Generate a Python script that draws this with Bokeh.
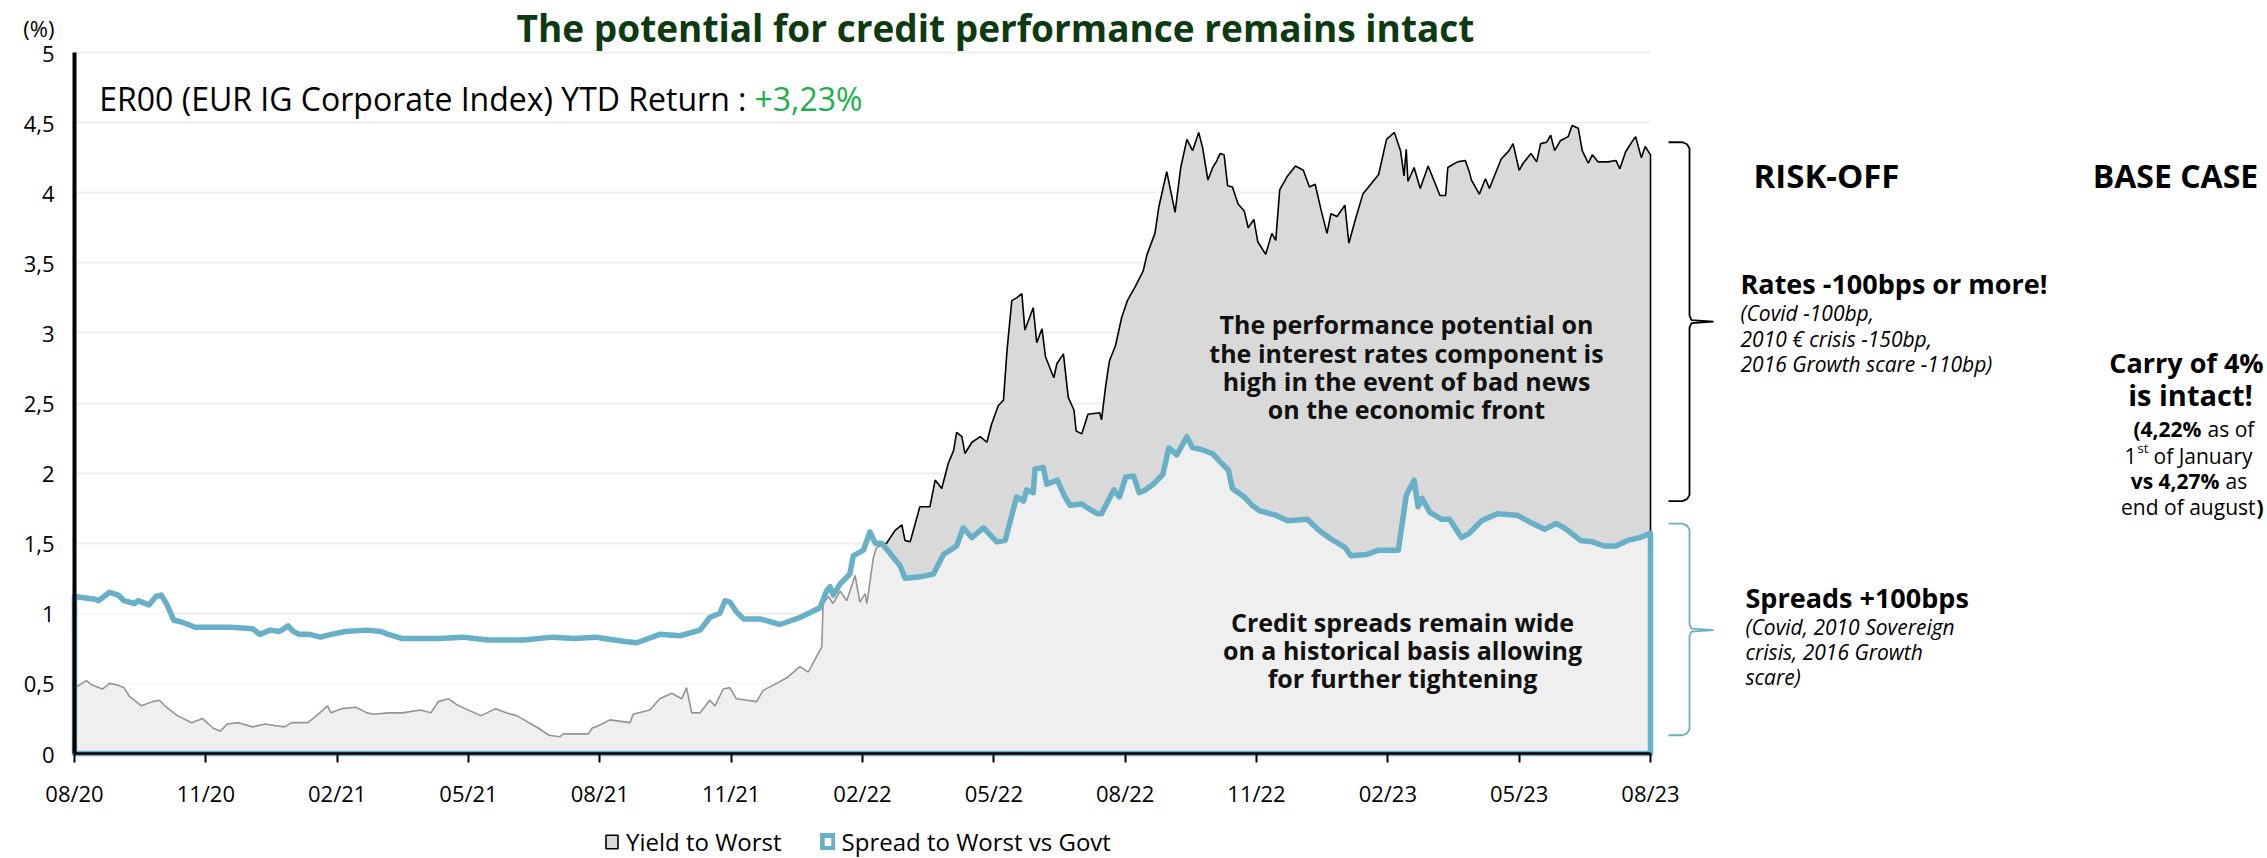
from bokeh.plotting import figure
from bokeh.models import Range1d, FixedTicker, Label, Legend, LegendItem
from bokeh.embed import file_html
from bokeh.resources import INLINE

# ---------------- data (x = months since end of August 2020) ----------------
x_ticks = [0, 3, 6, 9, 12, 15, 18, 21, 24, 27, 30, 33, 36]
x_tick_labels = ["08/20", "11/20", "02/21", "05/21", "08/21", "11/21", "02/22",
                 "05/22", "08/22", "11/22", "02/23", "05/23", "08/23"]
y_ticks = [0, 0.5, 1, 1.5, 2, 2.5, 3, 3.5, 4, 4.5, 5]
y_tick_labels = ["0", "0,5", "1", "1,5", "2", "2,5", "3", "3,5", "4", "4,5", "5"]
unit_label = "(%)"

ytw_months = [0.00, 0.12, 0.27, 0.39, 0.64, 0.80, 0.96, 1.13, 1.25, 1.53, 1.78, 1.94, 2.10, 2.35,
              2.68, 2.92, 3.17, 3.33, 3.49, 3.74, 4.07, 4.35, 4.56, 4.80, 4.96, 5.33, 5.53, 5.78,
              5.86, 6.10, 6.43, 6.68, 6.84, 7.17, 7.49, 7.90, 8.14, 8.31, 8.55, 8.72, 8.92, 9.29,
              9.62, 9.86, 10.10, 10.27, 10.60, 10.84, 11.09, 11.17, 11.41, 11.74, 11.82, 11.98,
              12.23, 12.69, 12.76, 13.14, 13.37, 13.64, 13.87, 13.98, 14.10, 14.29, 14.51, 14.63,
              14.82, 14.97, 15.12, 15.58, 15.73, 16.04, 16.27, 16.57, 16.76, 16.88, 17.07, 17.10,
              17.22, 17.33, 17.49, 17.64, 17.83, 17.94, 18.06, 18.10, 18.25, 18.32, 18.55, 18.74,
              18.90, 18.97, 19.09, 19.31, 19.54, 19.66, 19.81, 19.96, 20.08, 20.15, 20.27, 20.34,
              20.50, 20.69, 20.84, 20.95, 21.10, 21.22, 21.30, 21.41, 21.52, 21.64, 21.71, 21.90,
              21.98, 22.10, 22.18, 22.37, 22.44, 22.59, 22.70, 22.83, 22.88, 23.01, 23.15, 23.42,
              23.46, 23.55, 23.64, 23.78, 23.92, 24.05, 24.23, 24.41, 24.50, 24.68, 24.77, 24.95,
              25.14, 25.27, 25.41, 25.54, 25.68, 25.77, 25.89, 26.00, 26.08, 26.17, 26.26, 26.34,
              26.45, 26.58, 26.72, 26.81, 26.94, 27.03, 27.21, 27.35, 27.44, 27.53, 27.71, 27.89,
              28.07, 28.21, 28.34, 28.48, 28.61, 28.70, 28.84, 29.02, 29.11, 29.25, 29.43, 29.61,
              29.79, 29.97, 30.15, 30.29, 30.37, 30.42, 30.46, 30.60, 30.74, 30.92, 31.05, 31.19,
              31.32, 31.37, 31.59, 31.77, 31.86, 31.91, 32.09, 32.23, 32.32, 32.59, 32.77, 32.86,
              33.00, 33.09, 33.27, 33.40, 33.49, 33.63, 33.72, 33.81, 33.94, 34.12, 34.21, 34.35,
              34.44, 34.58, 34.67, 34.80, 35.03, 35.21, 35.30, 35.43, 35.57, 35.66, 35.79, 35.88,
              36.00]
ytw_values = [0.47, 0.49, 0.52, 0.49, 0.46, 0.50, 0.49, 0.47, 0.41, 0.34, 0.37, 0.38, 0.33, 0.27,
              0.22, 0.25, 0.18, 0.16, 0.21, 0.22, 0.19, 0.21, 0.20, 0.19, 0.22, 0.22, 0.27, 0.34,
              0.29, 0.32, 0.33, 0.29, 0.28, 0.29, 0.29, 0.31, 0.29, 0.37, 0.39, 0.35, 0.32, 0.27,
              0.32, 0.29, 0.27, 0.24, 0.18, 0.13, 0.12, 0.14, 0.14, 0.14, 0.18, 0.20,
              0.24, 0.22, 0.28, 0.31, 0.39, 0.43, 0.39, 0.47, 0.29, 0.29, 0.38, 0.34,
              0.46, 0.47, 0.39, 0.37, 0.45, 0.50, 0.54, 0.62, 0.58, 0.65, 0.76, 1.07,
              1.12, 1.07, 1.16, 1.09, 1.27, 1.08, 1.14, 1.07, 1.40, 1.47, 1.50, 1.59,
              1.63, 1.52, 1.51, 1.76, 1.76, 1.95, 1.89, 2.07, 2.16, 2.29, 2.26, 2.14,
              2.22, 2.26, 2.22, 2.35, 2.48, 2.52, 2.87, 3.23, 3.25, 3.28, 3.02, 3.18,
              2.93, 3.03, 2.83, 2.68, 2.78, 2.85, 2.54, 2.45, 2.30, 2.28, 2.42, 2.43,
              2.38, 2.61, 2.80, 2.91, 3.11, 3.23, 3.33, 3.44, 3.56, 3.71, 3.90, 4.15,
              3.86, 4.18, 4.38, 4.30, 4.43, 4.32, 4.09, 4.18, 4.22, 4.28, 4.27, 4.05,
              4.04, 3.92, 3.87, 3.75, 3.81, 3.65, 3.56, 3.71, 3.66, 4.02, 4.12, 4.19,
              4.16, 4.04, 4.06, 3.87, 3.71, 3.85, 3.83, 3.91, 3.64, 3.80, 3.99, 4.06,
              4.13, 4.38, 4.43, 4.30, 4.12, 4.31, 4.08, 4.18, 4.03, 4.19, 4.09, 3.98,
              3.98, 4.18, 4.22, 4.23, 4.15, 4.09, 3.99, 4.10, 4.03, 4.24, 4.30, 4.35,
              4.16, 4.21, 4.28, 4.22, 4.35, 4.36, 4.41, 4.30, 4.37, 4.40, 4.48, 4.46,
              4.30, 4.21, 4.27, 4.22, 4.22, 4.23, 4.17, 4.29, 4.36, 4.40, 4.25, 4.33,
              4.27]

spread_months = [0.00, 0.47, 0.55, 0.80, 1.00, 1.13, 1.37, 1.45, 1.70, 1.86, 1.98, 2.10, 2.27, 2.43,
                 2.60, 2.76, 3.09, 3.58, 4.07, 4.23, 4.47, 4.68, 4.88, 5.00, 5.13, 5.37, 5.62, 5.86,
                 6.19, 6.68, 7.00, 7.17, 7.49, 7.82, 8.31, 8.88, 9.13, 9.45, 9.78, 10.27, 10.92,
                 11.41, 11.90, 12.10, 12.53, 12.84, 13.37, 13.83, 14.29, 14.51, 14.74, 14.86, 14.97,
                 15.12, 15.28, 15.66, 16.11, 16.57, 17.03, 17.18, 17.26, 17.33, 17.49, 17.71, 17.79,
                 18.02, 18.17, 18.29, 18.44, 18.86, 18.97, 19.31, 19.62, 19.85, 20.15, 20.30, 20.50,
                 20.76, 21.07, 21.26, 21.52, 21.68, 21.75, 21.90, 21.94, 22.13, 22.21, 22.45, 22.61,
                 22.74, 23.01, 23.15, 23.37, 23.46, 23.74, 23.87, 24.01, 24.19, 24.32, 24.46, 24.64,
                 24.86, 25.00, 25.18, 25.41, 25.54, 25.72, 25.99, 26.17, 26.36, 26.45, 26.72, 26.90,
                 27.08, 27.44, 27.71, 28.16, 28.43, 28.70, 29.02, 29.16, 29.52, 29.79, 30.24, 30.42,
                 30.60, 30.69, 30.78, 30.96, 31.23, 31.41, 31.68, 31.86, 32.14, 32.50, 32.95, 33.31,
                 33.58, 33.85, 34.03, 34.40, 34.67, 34.94, 35.21, 35.48, 35.75, 36.00]
spread_values = [1.12, 1.10, 1.09, 1.15, 1.13, 1.09, 1.07, 1.09, 1.06, 1.12, 1.13, 1.07, 0.95, 0.94,
                 0.92, 0.90, 0.90, 0.90, 0.89, 0.85, 0.88, 0.87, 0.91, 0.87, 0.85, 0.85, 0.83, 0.85,
                 0.87, 0.88, 0.87, 0.85, 0.82, 0.82, 0.82, 0.83, 0.82, 0.81, 0.81, 0.81, 0.83,
                 0.82, 0.83, 0.82, 0.80, 0.79, 0.85, 0.84, 0.88, 0.97, 1.00, 1.09, 1.08,
                 1.01, 0.96, 0.96, 0.92, 0.97, 1.04, 1.16, 1.19, 1.13, 1.21, 1.28, 1.41,
                 1.45, 1.58, 1.50, 1.50, 1.34, 1.25, 1.26, 1.28, 1.42, 1.48, 1.61, 1.54,
                 1.61, 1.51, 1.52, 1.83, 1.80, 1.88, 1.86, 2.03, 2.04, 1.92, 1.95, 1.84,
                 1.77, 1.78, 1.75, 1.71, 1.71, 1.88, 1.83, 1.97, 1.98, 1.86, 1.88, 1.92,
                 1.99, 2.18, 2.13, 2.26, 2.18, 2.17, 2.14, 2.08, 2.02, 1.89, 1.83, 1.77,
                 1.73, 1.70, 1.66, 1.67, 1.59, 1.53, 1.47, 1.41, 1.42, 1.45, 1.45, 1.84,
                 1.95, 1.76, 1.82, 1.72, 1.67, 1.67, 1.54, 1.57, 1.66, 1.71, 1.70, 1.64,
                 1.60, 1.64, 1.61, 1.52, 1.51, 1.48, 1.48, 1.52, 1.54, 1.57]

# brace extents (in %) for the side annotations: top, tip, bottom
rates_brace = (4.36, 3.08, 1.80)
spread_brace = (1.64, 0.88, 0.13)

# ---------------- layout constants ----------------
FONT = "Open Sans"
BLUE = "#68b0c8"
CANVAS_W, CANVAS_H = 2267, 858
X0_PX, X36_PX, Y5_PX, Y0_PX = 74, 1650, 52, 753      # pixel positions of the data area
MPX = (x_ticks[-1] - x_ticks[0]) / (X36_PX - X0_PX)  # months per pixel
PX = y_ticks[-1] / (Y0_PX - Y5_PX)                    # % per pixel
X_LEFT = x_ticks[0] - X0_PX * MPX
X_RIGHT = x_ticks[0] + (CANVAS_W - X0_PX) * MPX
Y_TOP = y_ticks[-1] + Y5_PX * PX
Y_BOT = -(CANVAS_H - Y0_PX) * PX
UNIT_Y = y_ticks[-1] + (Y5_PX - 27) * PX

p = figure(frame_width=CANVAS_W, frame_height=CANVAS_H,
           min_border_left=0, min_border_right=0, min_border_top=0, min_border_bottom=0,
           x_range=Range1d(X_LEFT, X_RIGHT), y_range=Range1d(Y_BOT, Y_TOP),
           output_backend="svg", toolbar_location=None, background_fill_color="white",
           border_fill_color="white")
p.outline_line_color = None

# areas
xs_y = [ytw_months[0]] + ytw_months + [ytw_months[-1]]
ys_y = [0] + ytw_values + [0]
r_y = p.patch(xs_y, ys_y, fill_color="#d9d9d9", line_color="black", line_width=1.6)
xs_s = [spread_months[0]] + spread_months + [spread_months[-1]]
ys_s = [0] + spread_values + [0]
r_s = p.patch(xs_s, ys_s, fill_color="white", fill_alpha=0.58, line_color=BLUE, line_width=5.5,
              line_join="round")
# y axis line (from 0 to 5 only), drawn over the areas
p.segment(x0=x_ticks[0], y0=y_ticks[0], x1=x_ticks[0], y1=y_ticks[-1], line_color="black",
          line_width=4)

# axes (placed at the data origin, inside the frame that covers the whole canvas)
xa = p.xaxis[0]
xa.fixed_location = 0
xa.bounds = (x_ticks[0], x_ticks[-1])
xa.ticker = FixedTicker(ticks=x_ticks)
xa.major_label_overrides = {t: l for t, l in zip(x_ticks, x_tick_labels)}
ya = p.yaxis[0]
ya.fixed_location = x_ticks[0]
ya.ticker = FixedTicker(ticks=y_ticks + [UNIT_Y])
overrides = {t: l for t, l in zip(y_ticks, y_tick_labels)}
overrides[UNIT_Y] = unit_label
ya.major_label_overrides = overrides
for ax in (xa, ya):
    ax.major_label_text_font = FONT
    ax.major_label_text_font_size = "22px"
    ax.major_label_text_color = "black"
    ax.minor_tick_line_color = None
xa.axis_line_color = "black"
xa.axis_line_width = 2.5
xa.major_tick_line_color = "black"
xa.major_tick_line_width = 2
xa.major_tick_out = 9
xa.major_tick_in = 0
xa.major_label_standoff = 15
ya.axis_line_color = None
ya.major_tick_line_color = None
ya.major_label_standoff = 14
p.xgrid.visible = False
p.ygrid.ticker = FixedTicker(ticks=y_ticks)
p.ygrid.cross_bounds = (x_ticks[0], x_ticks[-1])
p.ygrid.grid_line_color = "#eeeeee"
p.ygrid.grid_line_width = 2


def lab(rx, ry, text, size, style="normal", color="black", align="left"):
    p.add_layout(Label(x=rx, y=CANVAS_H - ry, x_units="screen", y_units="screen",
                       text=text, text_font=FONT, text_font_size=f"{size}px",
                       text_font_style=style, text_color=color, text_align=align,
                       text_baseline="middle"))


# title and headers
lab(995, 27, "The potential for credit performance remains intact", 37, "bold", "#0e3a12", "center")
lab(746, 98, "ER00 (EUR IG Corporate Index) YTD Return :", 32, align="right")
lab(754, 98, "+3,23%", 32, color="#20b04b")

for ry, t in zip([323, 352, 380, 408], ["The performance potential on",
                                         "the interest rates component is",
                                         "high in the event of bad news",
                                         "on the economic front"]):
    lab(1406, ry, t, 25, "bold", "#111111", "center")
for ry, t in zip([621, 649, 677], ["Credit spreads remain wide",
                                    "on a historical basis allowing",
                                    "for further tightening"]):
    lab(1402, ry, t, 25, "bold", "#111111", "center")

legend = Legend(items=[LegendItem(label="Yield to Worst", renderers=[r_y]),
                       LegendItem(label="Spread to Worst vs Govt", renderers=[r_s])],
                location=(604, 0), orientation="horizontal",
                label_text_font=FONT, label_text_font_size="24px", label_text_color="black",
                glyph_width=15, glyph_height=17, label_standoff=7, spacing=38,
                padding=0, margin=0, border_line_color=None, background_fill_alpha=0)
p.add_layout(legend)


# ---------------- right side annotations ----------------
def brace(top, tip, bottom, color):
    px_x = [1668, 1682, 1686.5, 1689, 1689, 1691, 1713, 1691, 1689, 1689, 1686.5, 1682, 1668]
    xs = [(v - X0_PX) * MPX for v in px_x]
    ys = [top, top, top - 2 * PX, top - 6 * PX, tip + 6 * PX, tip + 1.5 * PX, tip,
          tip - 1.5 * PX, tip - 6 * PX, bottom + 6 * PX, bottom + 2 * PX, bottom, bottom]
    p.line(xs, ys, line_color=color, line_width=1.8)


brace(*rates_brace, "black")
brace(*spread_brace, BLUE)

lab(1826, 175, "RISK-OFF", 33, "bold", align="center")
lab(2175, 175, "BASE CASE", 32, "bold", align="center")
lab(1740, 283, "Rates -100bps or more!", 27, "bold")
for ry, t in zip([312, 338, 363], ["(Covid -100bp,", "2010 € crisis -150bp,",
                                    "2016 Growth scare -110bp)"]):
    lab(1740, ry, t, 21, "italic")
lab(1745, 597, "Spreads +100bps", 27, "bold")
for ry, t in zip([626, 651, 676], ["(Covid, 2010 Sovereign", "crisis, 2016 Growth", "scare)"]):
    lab(1745, ry, t, 21, "italic")

lab(2186, 362, "Carry of 4%", 27, "bold", align="center")
lab(2190, 394, "is intact!", 29, "bold", align="center")
lab(2201, 428, "(4,22%", 21, "bold", align="right")
lab(2207, 428, "as of", 21)
lab(2136, 455, "1", 21, align="right")
lab(2137, 447, "st", 13)
lab(2153, 455, "of January", 21)
lab(2219, 480, "vs 4,27%", 21, "bold", align="right")
lab(2225, 480, "as", 21)
lab(2255, 506, "end of august", 21, align="right")
lab(2256, 506, ")", 21, "bold")

open("out.html", "w").write(file_html(p, INLINE))
